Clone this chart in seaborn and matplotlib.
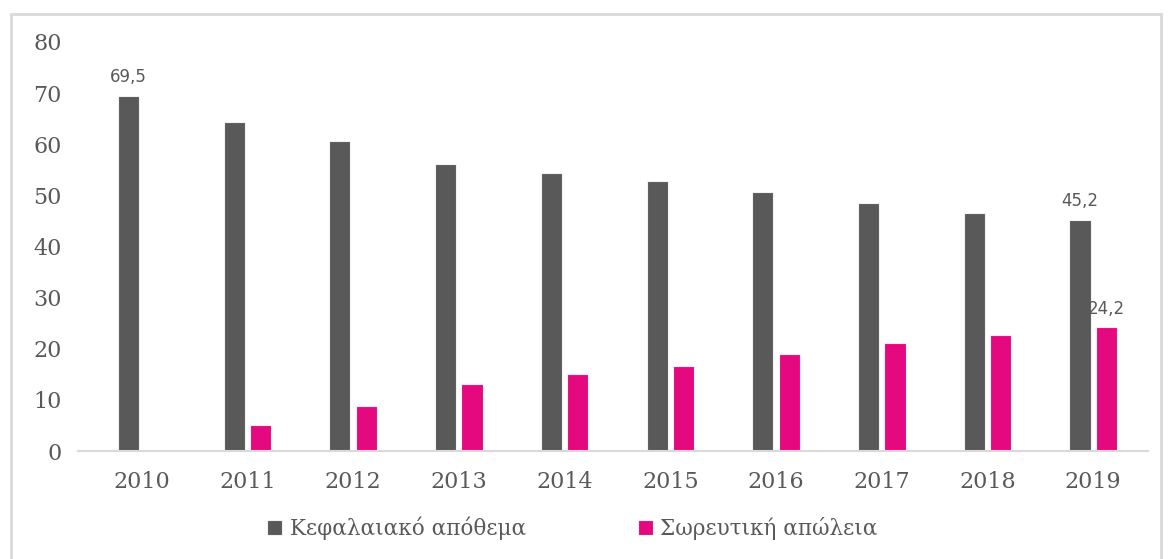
import numpy as np
import pandas as pd
import seaborn as sns
from matplotlib import pyplot as plt
from matplotlib.patches import Rectangle

years = ["2010", "2011", "2012", "2013", "2014", "2015", "2016", "2017", "2018", "2019"]
capital_stock = [69.5, 64.4, 60.7, 56.2, 54.4, 52.8, 50.7, 48.5, 46.6, 45.2]
cumulative_loss = [0.0, 5.1, 8.8, 13.1, 15.1, 16.6, 19.0, 21.1, 22.7, 24.2]
series_names = ["Κεφαλαιακό απόθεμα", "Σωρευτική απώλεια"]

PALETTE = {series_names[0]: "#595959", series_names[1]: "#E5097F"}
TEXT = "#595959"

df = pd.DataFrame({
    "Έτος": years * 2,
    "Τιμή": capital_stock + cumulative_loss,
    "Σειρά": [series_names[0]] * len(years) + [series_names[1]] * len(years),
})

sns.set_style("white")
plt.rcParams["font.family"] = ["DejaVu Serif"]

fig = plt.figure(figsize=(11.68, 5.59), dpi=100)
ax = fig.add_axes([0.067, 0.193, 0.916, 0.732])

sns.barplot(
    data=df, x="Έτος", y="Τιμή", hue="Σειρά",
    hue_order=series_names, palette=PALETTE, saturation=1,
    width=0.5, gap=0.2, edgecolor="#F2F2F2", linewidth=0.8,
    ax=ax, legend=True,
)

ax.set_xlim(-0.6, 9.52)
ax.set_ylim(0, 80)
ax.set_yticks(range(0, 81, 10))
ax.set_xlabel("")
ax.set_ylabel("")
for s in ["top", "right", "left"]:
    ax.spines[s].set_visible(False)
ax.spines["bottom"].set_color("#D9D9D9")
ax.spines["bottom"].set_linewidth(1.5)
ax.tick_params(axis="both", length=0, colors=TEXT, labelsize=16)
ax.tick_params(axis="x", pad=14)
ax.tick_params(axis="y", pad=12)

# data labels only on first and last values
show = {0: [0, len(years) - 1], 1: [len(years) - 1]}
for i, cont in enumerate(ax.containers):
    vals = capital_stock if i == 0 else cumulative_loss
    labels = [f"{v:.1f}".replace(".", ",") if j in show[i] else "" for j, v in enumerate(vals)]
    ax.bar_label(cont, labels=labels, padding=7, fontsize=12,
                 color=TEXT, family="DejaVu Sans")

handles, labels = ax.get_legend_handles_labels()
ax.get_legend().remove()
fig.legend(handles, labels, loc="lower center", bbox_to_anchor=(0.49, 0.0),
           ncol=2, frameon=False, fontsize=15.5, labelcolor=TEXT,
           handlelength=0.7, handleheight=0.7, handletextpad=0.35,
           columnspacing=5.2)

fig.patches.append(Rectangle((0.009, -0.01), 0.985, 0.985, transform=fig.transFigure,
                             fill=False, edgecolor="#D9D9D9", linewidth=2))

fig.savefig("out.png", dpi=100)
